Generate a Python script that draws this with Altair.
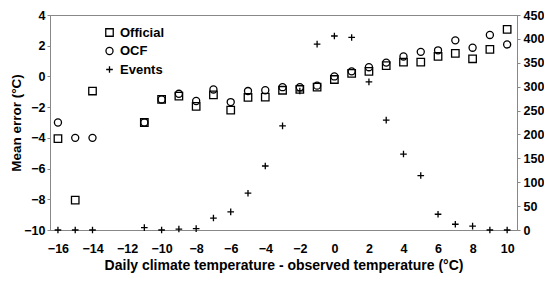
import altair as alt
import pandas as pd

temps = [-16, -15, -14, -11, -10, -9, -8, -7, -6, -5, -4, -3, -2, -1, 0, 1, 2, 3, 4, 5, 6, 7, 8, 9, 10]
official = [-4.05, -8.05, -0.95, -3.0, -1.5, -1.28, -1.95, -1.2, -2.2, -1.37, -1.35, -0.9, -0.85, -0.7,
            -0.2, 0.2, 0.33, 0.7, 0.93, 0.93, 1.3, 1.5, 1.15, 1.76, 3.06]
ocf = [-3.0, -4.0, -4.0, -3.0, -1.5, -1.13, -1.6, -0.85, -1.67, -0.95, -0.9, -0.7, -0.7, -0.6,
       0.0, 0.33, 0.6, 0.9, 1.3, 1.6, 1.7, 2.35, 1.87, 2.7, 2.08]
events = [0, 0, 0, 5, 0, 2, 3, 25, 38, 77, 134, 218, 291, 389, 406, 403, 310, 230, 159, 114, 33, 12, 8, 0, 0]

series_order = ["Official", "OCF", "Events"]
shape_range = ["square", "circle", "M-1,0H1M0,-1V1"]
size_range = [56, 44, 80]

err_df = pd.concat([
    pd.DataFrame({"t": temps, "v": official, "series": "Official"}),
    pd.DataFrame({"t": temps, "v": ocf, "series": "OCF"}),
])
ev_df = pd.DataFrame({"t": temps, "n": events, "series": "Events"})

FONT = "Liberation Sans"
GRAY = "#888888"

xenc = alt.X(
    "t:Q",
    scale=alt.Scale(domain=[-16.46, 10.57], nice=False, zero=False),
    axis=alt.Axis(values=list(range(-16, 11, 2)),
                  title="Daily climate temperature - observed temperature (°C)",
                  grid=False, tickSize=0, labelPadding=12, titlePadding=4,
                  domainColor=GRAY),
)

legend_def = alt.Legend(title=None, orient="none", legendX=53, legendY=11,
                        labelFontSize=13, labelFont=FONT, labelFontWeight="bold",
                        labelColor="black", symbolStrokeColor="black",
                        symbolStrokeWidth=1.3, symbolFillColor="transparent",
                        rowPadding=4.5, labelOffset=4, padding=0)

shape_enc = alt.Shape(
    "series:N",
    scale=alt.Scale(domain=series_order, range=shape_range),
    sort=series_order,
    legend=legend_def,
)
size_enc = alt.Size(
    "series:N",
    scale=alt.Scale(domain=series_order, range=size_range),
    sort=series_order,
    legend=legend_def,
)

err = alt.Chart(err_df).mark_point(filled=False, color="black", strokeWidth=1.3, opacity=1).encode(
    x=xenc,
    y=alt.Y("v:Q", scale=alt.Scale(domain=[-10, 4], nice=False),
            axis=alt.Axis(values=list(range(-10, 5, 2)), title="Mean error (°C)",
                          grid=False, orient="left", tickSize=3, labelPadding=2,
                          titlePadding=0, titleFontSize=13.5,
                          domainColor=GRAY, tickColor=GRAY)),
    shape=shape_enc,
    size=size_enc,
)

ev = alt.Chart(ev_df).mark_point(filled=False, color="black", strokeWidth=1.3, opacity=1).encode(
    x=xenc,
    y=alt.Y("n:Q", scale=alt.Scale(domain=[0, 450], nice=False),
            axis=alt.Axis(values=list(range(0, 451, 50)), title=None, grid=False,
                          orient="right", tickSize=3, labelPadding=3,
                          domainColor=GRAY, tickColor=GRAY)),
    shape=shape_enc,
    size=size_enc,
)

chart = alt.layer(err, ev).resolve_scale(y="independent").properties(
    width=467, height=215,
    autosize=alt.AutoSizeParams(type="none"),
    padding={"left": 42, "top": 7, "right": 27, "bottom": 43},
).configure_view(stroke=GRAY, strokeWidth=1).configure_axis(
    labelFont=FONT, labelFontSize=12.5, labelFontWeight="bold", labelColor="black",
    titleFont=FONT, titleFontSize=14, titleFontWeight="bold", titleColor="black",
)

chart.save("out.html", embed_options={"renderer": "svg", "actions": False})
